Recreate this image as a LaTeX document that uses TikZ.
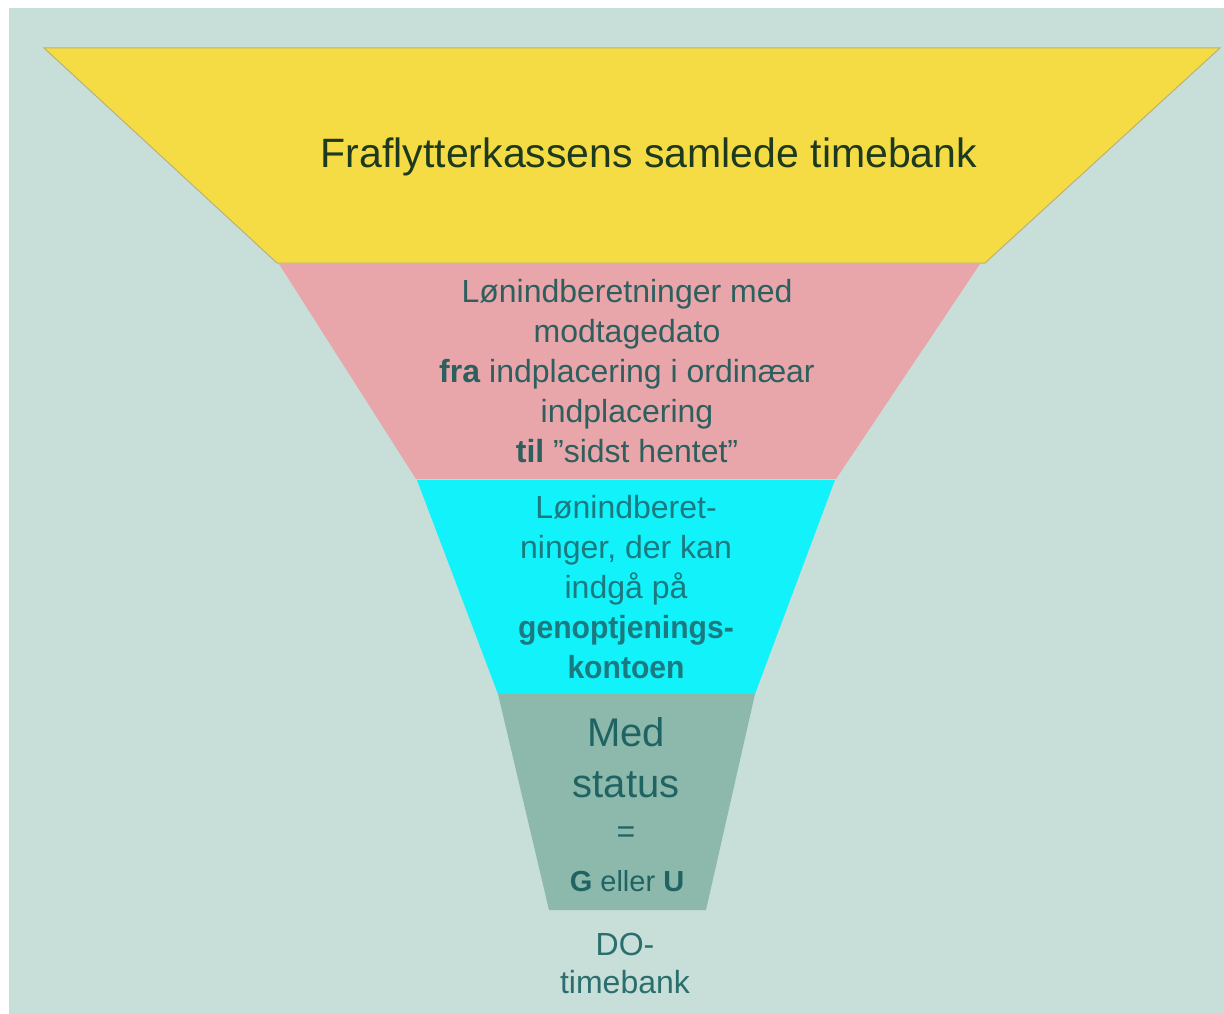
\documentclass[tikz,border=0pt]{standalone}
\usepackage{fontspec}
\setmainfont{Liberation Sans}
\newfontfamily\boldnarrow[FakeStretch=0.94]{Liberation Sans}
\definecolor{bgc}{HTML}{C8DED8}
\definecolor{yel}{HTML}{F5DC45}
\definecolor{yelline}{HTML}{B8B27A}
\definecolor{pnk}{HTML}{E8A6AA}
\definecolor{cyn}{HTML}{12F2FB}
\definecolor{gry}{HTML}{8DB8AC}
\definecolor{ytext}{HTML}{1E3A1E}
\definecolor{ptext}{HTML}{2E5F5E}
\definecolor{ctext}{HTML}{1A7A80}
\definecolor{gtext}{HTML}{1F6462}
\definecolor{btext}{HTML}{2A6E6E}
\tikzset{
  lbl/.style={inner sep=0pt, align=center},
}
\begin{document}
\begin{tikzpicture}[x=1pt,y=-1pt]
\useasboundingbox (0,0) rectangle (1224,1014);
\fill[white] (0,0) rectangle (1224,1014);
\fill[bgc] (9,8) rectangle (1224,1014);
% funnel layers
\fill[yel, draw=yelline, line width=1pt] (44,48) -- (1220,48) -- (985,263) -- (277,263) -- cycle;
\fill[pnk] (279,264) -- (980,264) -- (836,479) -- (416,479) -- cycle;
\fill[cyn] (417,480) -- (835,480) -- (755,694) -- (498,694) -- cycle;
\fill[gry] (498,694) -- (755,694) -- (706,910) -- (549,910) -- cycle;
% texts
\node[lbl, text=ytext, font=\fontsize{41}{48}\selectfont] (t1) at (649,157) {Fraflytterkassens samlede timebank};
\node[lbl, text=ptext, font=\fontsize{32}{40}\selectfont] (t2) at (627,371)
  {Lønindberetninger med\\modtagedato\\\textbf{fra} indplacering i ordinæar\\indplacering\\\textbf{til} ”sidst hentet”};
\node[lbl, text=ctext, font=\fontsize{32}{40}\selectfont] (t3) at (626,587)
  {Lønindberet-\\ninger, der kan\\indgå på\\{\boldnarrow\bfseries genoptjenings-}\\{\boldnarrow\bfseries kontoen}};
\node[lbl, text=gtext, font=\fontsize{40}{48}\selectfont] (t4a) at (626,732) {Med};
\node[lbl, text=gtext, font=\fontsize{40}{48}\selectfont] (t4b) at (626,785) {status};
\node[lbl, text=gtext, font=\fontsize{32}{36}\selectfont] (t4c) at (626,835) {=};
\node[lbl, text=gtext, font=\fontsize{29}{36}\selectfont] (t4d) at (627,881) {\textbf{G} eller \textbf{U}};
\node[lbl, text=btext, font=\fontsize{32}{38}\selectfont] (t5) at (625,963) {DO-\\timebank};
\end{tikzpicture}
\end{document}
